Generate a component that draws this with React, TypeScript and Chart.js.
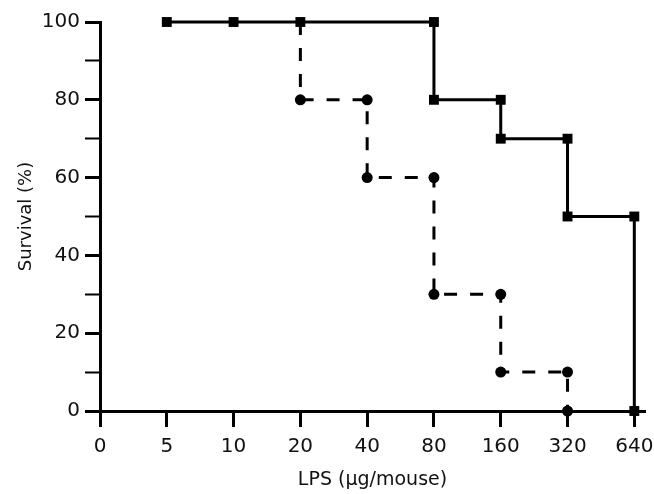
import React, { useEffect, useRef } from "react";
import { Chart, registerables } from "chart.js";

Chart.register(...registerables);

// Evenly spaced dose categories on the x axis
const doseLabels = ["0", "5", "10", "20", "40", "80", "160", "320", "640"];

// Solid line with squares
const solidDoses = ["5", "10", "20", "80", "80", "160", "160", "320", "320", "640", "640"];
const solidSurvival = [100, 100, 100, 100, 80, 80, 70, 70, 50, 50, 0];

// Dashed line with circles
const dashedDoses = ["20", "20", "40", "40", "80", "80", "160", "160", "320", "320"];
const dashedSurvival = [100, 80, 80, 60, 60, 30, 30, 10, 10, 0];

// Y ticks (labels only every 20)
const yTickValues = [0, 10, 20, 30, 40, 50, 60, 70, 80, 90, 100];
const yLabelStep = 20;

const xTitle = "LPS (\u03bcg/mouse)";
const yTitle = "Survival (%)";

const FONT = "'DejaVu Sans', sans-serif";

export default function App() {
  const ref = useRef<HTMLCanvasElement | null>(null);

  useEffect(() => {
    if (!ref.current) return;
    const toPts = (doses: string[], vals: number[]) =>
      doses.map((d, i) => ({ x: doseLabels.indexOf(d), y: vals[i] }));

    const chart = new Chart(ref.current, {
      type: "line",
      data: {
        datasets: [
          {
            data: toPts(solidDoses, solidSurvival),
            borderColor: "#000",
            borderWidth: 3,
            pointStyle: "rect",
            pointRadius: 7,
            pointBackgroundColor: "#000",
            pointBorderWidth: 0,
            clip: false,
            tension: 0,
          } as any,
          {
            data: toPts(dashedDoses, dashedSurvival),
            borderColor: "#000",
            borderWidth: 3,
            borderDash: [13, 13],
            pointStyle: "circle",
            pointRadius: (ctx: any) => (ctx.dataIndex === 0 ? 0 : 5.5),
            pointBackgroundColor: "#000",
            pointBorderWidth: 0,
            clip: false,
            tension: 0,
          } as any,
        ],
      },
      options: {
        responsive: false,
        animation: false,
        layout: { padding: { top: 22, right: 9, left: 0, bottom: 0 } },
        plugins: { legend: { display: false }, tooltip: { enabled: false } },
        scales: {
          x: {
            type: "linear",
            min: 0,
            max: 8.16,
            afterBuildTicks: (s: any) => {
              s.ticks = doseLabels.map((_, i) => ({ value: i }));
            },
            afterFit: (s: any) => {
              s.height = 83;
              s.paddingLeft = 0;
              s.paddingRight = 0;
            },
            ticks: {
              callback: (v: any) => doseLabels[v as number] ?? "",
              font: { family: FONT, size: 20 },
              color: "#111",
              padding: 8,
              maxRotation: 0,
              autoSkip: false,
            },
            grid: {
              drawOnChartArea: false,
              drawTicks: true,
              tickLength: 16,
              tickWidth: 3,
              tickColor: "#000",
            },
            border: { display: true, width: 3, color: "#000" },
            title: {
              display: true,
              text: xTitle,
              font: { family: FONT, size: 19 },
              color: "#111",
              padding: { top: 0, bottom: 3 },
            },
          },
          y: {
            type: "linear",
            min: 0,
            max: 100,
            afterBuildTicks: (s: any) => {
              s.ticks = yTickValues.map((v) => ({ value: v }));
            },
            afterFit: (s: any) => {
              s.width = 100;
              s.paddingTop = 0;
              s.paddingBottom = 0;
            },
            ticks: {
              callback: (v: any) => ((v as number) % yLabelStep === 0 ? String(v) : ""),
              font: { family: FONT, size: 20 },
              color: "#111",
              padding: 5,
              autoSkip: false,
            },
            grid: {
              drawOnChartArea: false,
              drawTicks: true,
              tickLength: 15,
              tickWidth: (ctx: any) => (ctx.tick && ctx.tick.value % yLabelStep === 0 ? 3 : 2),
              tickColor: "#000",
            },
            border: { display: true, width: 3, color: "#000" },
            title: {
              display: true,
              text: yTitle,
              font: { family: FONT, size: 18 },
              color: "#111",
              padding: { top: 16, bottom: 0 },
            },
          },
        },
      },
    });
    return () => chart.destroy();
  }, []);

  return (
    <div style={{ position: "fixed", left: 0, top: 0, width: 654, height: 494, background: "#fff" }}>
      <canvas ref={ref} width={654} height={494} style={{ display: "block" }} />
    </div>
  );
}
